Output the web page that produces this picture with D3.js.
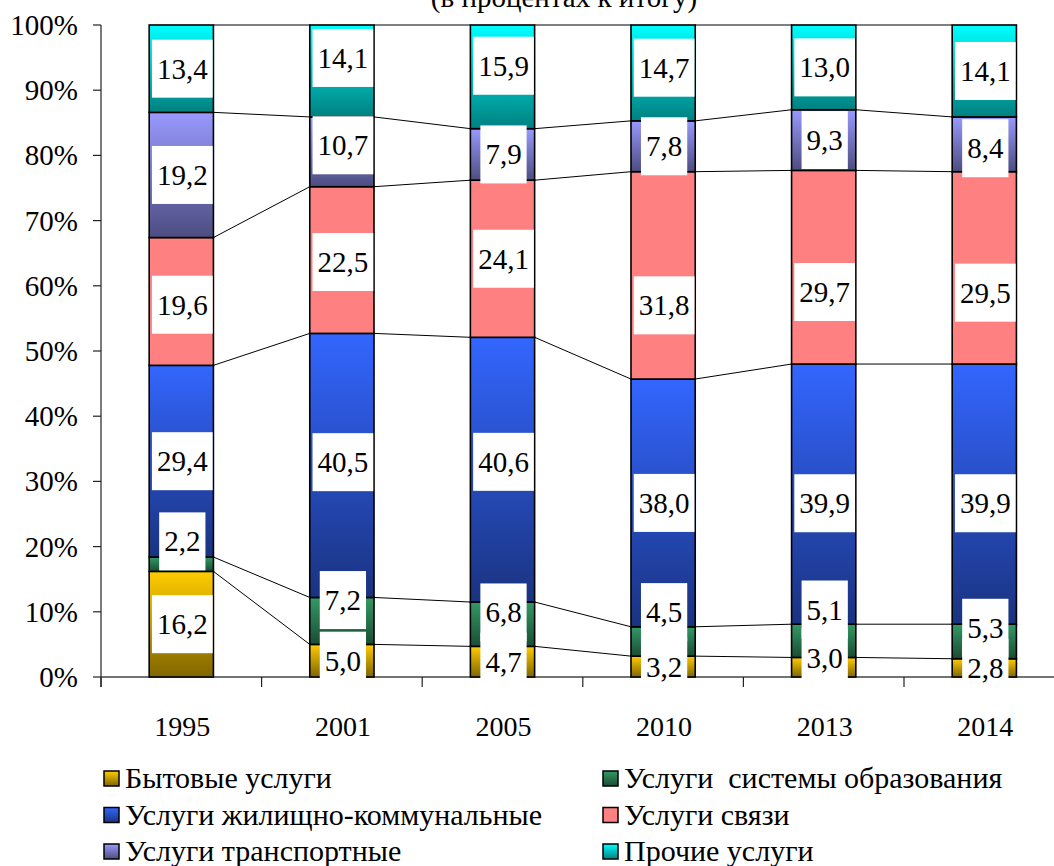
<!DOCTYPE html>
<html><head><meta charset="utf-8">
<script src="https://cdn.jsdelivr.net/npm/d3@7"></script>
<style>
body{margin:0;background:#fff;}
svg text{font-family:"Liberation Serif","Times New Roman",serif;fill:#000;}
</style></head><body>
<svg id="chart" width="1054" height="866"></svg>
<script>
// ---- data ----
const years = ["1995", "2001", "2005", "2010", "2013", "2014"];
const seriesNames = ["Бытовые услуги", "Услуги  системы образования", "Услуги жилищно-коммунальные", "Услуги связи", "Услуги транспортные", "Прочие услуги"];
const bytovye     = [16.2, 5.0, 4.7, 3.2, 3.0, 2.8];
const obrazovanie = [2.2, 7.2, 6.8, 4.5, 5.1, 5.3];
const zhkh        = [29.4, 40.5, 40.6, 38.0, 39.9, 39.9];
const svyaz       = [19.6, 22.5, 24.1, 31.8, 29.7, 29.5];
const transport   = [19.2, 10.7, 7.9, 7.8, 9.3, 8.4];
const prochie     = [13.4, 14.1, 15.9, 14.7, 13.0, 14.1];
const yTicks = [0, 10, 20, 30, 40, 50, 60, 70, 80, 90, 100];
const titleText = "(в процентах к итогу)";
// label nudges in percentage points (positive = up), as placed in the original
const nudgeBytovye     = [0, 0, 0, 0, 1.4, 0];
const nudgeObrazovanie = [3.5, 3.2, 1.8, 4.5, 4.8, 2.1];
const nudgeZhkh        = [0, 0.5, 1.2, 0, -1.4, -1.4];
const nudgeSvyaz       = [-0.5, -0.3, 0, -4.6, -3.8, -3.8];
const nudgeTransport   = [0, 1, 0, 0, 0, -0.6];
const nudgeProchie     = [0, 2.0, 1.7, 0.8, 0, 0];

// ---- styles ----
const FONT = "Liberation Serif";
const gradColors = [
  ["#FFCC00", "#806600"],
  ["#339966", "#1A4D33"],
  ["#3366FF", "#1A3380"],
  ["#FF8080", "#FF8080"],
  ["#9999FF", "#4D4D80"],
  ["#00FFFF", "#008080"]
];

const seriesVals = [bytovye, obrazovanie, zhkh, svyaz, transport, prochie];
const nudges = [nudgeBytovye, nudgeObrazovanie, nudgeZhkh, nudgeSvyaz, nudgeTransport, nudgeProchie];
const keys = seriesNames.map((_, i) => "s" + i);
const rows = years.map((yr, i) => {
  const r = {year: yr};
  keys.forEach((k, j) => r[k] = seriesVals[j][i]);
  return r;
});
const stacked = d3.stack().keys(keys)(rows);

const svg = d3.select("#chart");
const x = d3.scaleBand().domain(years).range([101, 101 + 6 * 160.6]).paddingInner(0.6).paddingOuter(0.3);
const y = d3.scaleLinear().domain([0, 100]).range([677, 25]);
const bw = x.bandwidth();
const fmt = v => v.toFixed(1).replace(".", ",");

const defs = svg.append("defs");
gradColors.forEach((c, i) => {
  const g = defs.append("linearGradient").attr("id", "g" + i)
    .attr("x1", 0).attr("y1", 0).attr("x2", 0).attr("y2", 1);
  g.append("stop").attr("offset", "0%").attr("stop-color", c[0]);
  g.append("stop").attr("offset", "100%").attr("stop-color", c[1]);
});

// title (cut at top, as in the original)
svg.append("text").attr("x", 564).attr("y", 7).attr("text-anchor", "middle")
  .attr("font-family", FONT).style("font-size", "29px").text(titleText);

// axes
const axG = svg.append("g");
axG.append("line").attr("x1", 101).attr("x2", 101).attr("y1", y(100)).attr("y2", y(0) + 10)
  .attr("stroke", "#222").attr("stroke-width", 1.2);
yTicks.forEach(t => {
  axG.append("line").attr("x1", 93).attr("x2", 101).attr("y1", y(t)).attr("y2", y(t))
    .attr("stroke", "#222").attr("stroke-width", 1.2);
  axG.append("text").attr("x", 78).attr("y", y(t) + 10)
    .attr("text-anchor", "end").attr("font-family", FONT).style("font-size", "29px").text(t + "%");
});
const x0 = x.range()[0], step = x.step();
axG.append("line").attr("x1", x0).attr("x2", 1054).attr("y1", y(0)).attr("y2", y(0))
  .attr("stroke", "#444").attr("stroke-width", 1.5);
d3.range(0, years.length + 1).forEach(i => {
  axG.append("line").attr("x1", x0 + i * step).attr("x2", x0 + i * step)
    .attr("y1", y(0)).attr("y2", y(0) + 10).attr("stroke", "#222").attr("stroke-width", 1.2);
});
years.forEach(yr => {
  axG.append("text").attr("x", x(yr) + bw / 2 + 1).attr("y", 736).attr("text-anchor", "middle")
    .attr("font-family", FONT).style("font-size", "28px").text(yr);
});

// bars
stacked.forEach((layer, k) => {
  svg.append("g").selectAll("rect").data(layer).join("rect")
    .attr("x", d => x(d.data.year)).attr("width", bw)
    .attr("y", d => y(d[1])).attr("height", d => y(d[0]) - y(d[1]))
    .attr("fill", `url(#g${k})`).attr("stroke", "#000").attr("stroke-width", 1.6);
});

// series lines
const slG = svg.append("g");
stacked.forEach(layer => {
  for (let i = 0; i < layer.length - 1; i++) {
    slG.append("line")
      .attr("x1", x(years[i]) + bw).attr("y1", y(layer[i][1]))
      .attr("x2", x(years[i + 1])).attr("y2", y(layer[i + 1][1]))
      .attr("stroke", "#000").attr("stroke-width", 1);
  }
});

// data labels
const lblG = svg.append("g");
stacked.forEach((layer, k) => {
  layer.forEach((d, i) => {
    const cx = x(d.data.year) + bw / 2 + 1;
    const cy = y((d[0] + d[1]) / 2 + nudges[k][i]);
    const g = lblG.append("g");
    const rect = g.append("rect").attr("fill", "#fff");
    const t = g.append("text").attr("x", cx).attr("y", cy + 10)
      .attr("text-anchor", "middle").attr("font-family", FONT).style("font-size", "29px")
      .text(fmt(seriesVals[k][i]));
    const w = t.node().getComputedTextLength() + 10;
    rect.attr("x", cx - w / 2).attr("width", w).attr("y", cy - 29).attr("height", 58);
  });
});

// legend
const legG = svg.append("g");
seriesNames.forEach((name, i) => {
  const col = i % 2, row = Math.floor(i / 2);
  const lx = col === 0 ? 104 : 603;
  const ly = 771 + row * 36.5;
  legG.append("rect").attr("x", lx).attr("y", ly).attr("width", 15).attr("height", 15)
    .attr("fill", `url(#g${i})`).attr("stroke", "#000").attr("stroke-width", 1.5);
  legG.append("text").attr("x", lx + 21).attr("y", ly + 17).attr("font-family", FONT)
    .style("font-size", "30px").style("white-space", "pre").attr("xml:space", "preserve").text(name);
});
</script>
</body></html>
